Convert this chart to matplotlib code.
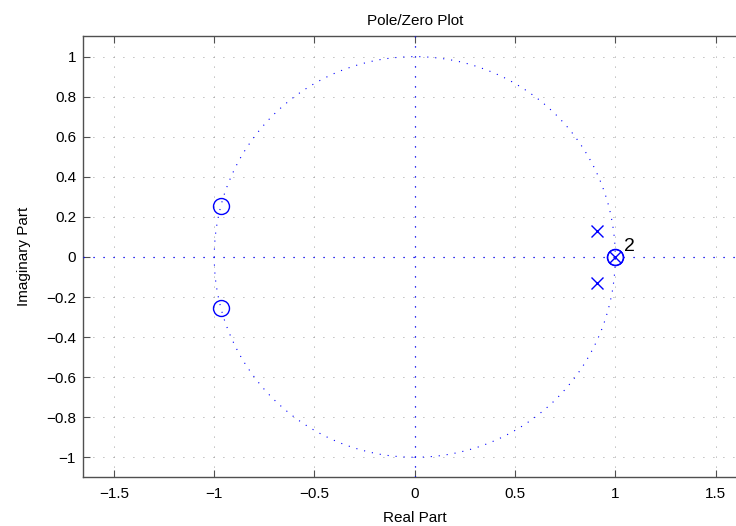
import matplotlib
matplotlib.use("Agg")
import matplotlib.pyplot as plt
from matplotlib.patches import Circle
import numpy as np

# zeros and poles of the filter (real, imag)
zeros_re = [-0.967, -0.967, 1.0, 1.0]
zeros_im = [0.255, -0.255, 0.0, 0.0]
poles_re = [0.91, 0.91, 1.0]
poles_im = [0.13, -0.13, 0.0]

xticks = [-1.5, -1, -0.5, 0, 0.5, 1, 1.5]
yticks = [-1, -0.8, -0.6, -0.4, -0.2, 0, 0.2, 0.4, 0.6, 0.8, 1]

plt.rcParams['font.family'] = ['Liberation Sans', 'DejaVu Sans']
plt.rcParams['axes.unicode_minus'] = True

fig = plt.figure(figsize=(7.36, 5.26), dpi=100)
ax = fig.add_axes([83 / 736, 48.7 / 526, 663.5 / 736, 441.3 / 526])

blue = '#0000ff'

# unit circle and the real/imaginary axes, dotted
ax.add_patch(Circle((0, 0), 1, fill=False, edgecolor=blue, lw=0.8,
                    linestyle=(0, (1, 6.2)), zorder=3))
ax.axhline(0, color=blue, lw=0.9, linestyle=(0, (1, 7)), zorder=3)
ax.axvline(0, color=blue, lw=0.9, linestyle=(0, (1, 7)), zorder=3)

ax.plot(zeros_re, zeros_im, 'o', mfc='none', mec=blue, ms=11.5, mew=1.0, zorder=4)
ax.plot(poles_re, poles_im, 'x', color=blue, ms=8.5, mew=1.0, zorder=4)

# multiplicity of the double zero at z = 1
zr = np.array(zeros_re)
zi = np.array(zeros_im)
mult = int(np.sum((zr == 1.0) & (zi == 0.0)))
ax.annotate(str(mult), xy=(1.0, 0.0), xytext=(6, 4), textcoords='offset points',
            fontsize=14, color='black')

ax.set_xlim(-1.6545, 1.6545)
ax.set_ylim(-1.1, 1.103)
ax.set_xticks(xticks)
ax.set_xticklabels(['\u22121.5', '\u22121', '\u22120.5', '0', '0.5', '1', '1.5'])
ax.set_yticks(yticks)
ax.set_yticklabels(['\u22121', '\u22120.8', '\u22120.6', '\u22120.4', '\u22120.2', '0',
                    '0.2', '0.4', '0.6', '0.8', '1'])

ax.grid(True, color='#7a7a7a', lw=0.6, linestyle=(0, (1, 11)))
ax.set_axisbelow(True)
ax.tick_params(direction='in', top=True, right=True, length=5, width=0.8,
               color='#505050', labelsize=11)
ax.tick_params(axis='y', pad=5)
ax.tick_params(axis='x', pad=7)
for s in ax.spines.values():
    s.set_color('#505050')
    s.set_linewidth(1.0)

ax.set_title('Pole/Zero Plot', fontsize=11, pad=8)
ax.set_xlabel('Real Part', fontsize=11, labelpad=7)
ax.set_ylabel('Imaginary Part', fontsize=11, labelpad=11)

fig.savefig('out.png', dpi=100)
